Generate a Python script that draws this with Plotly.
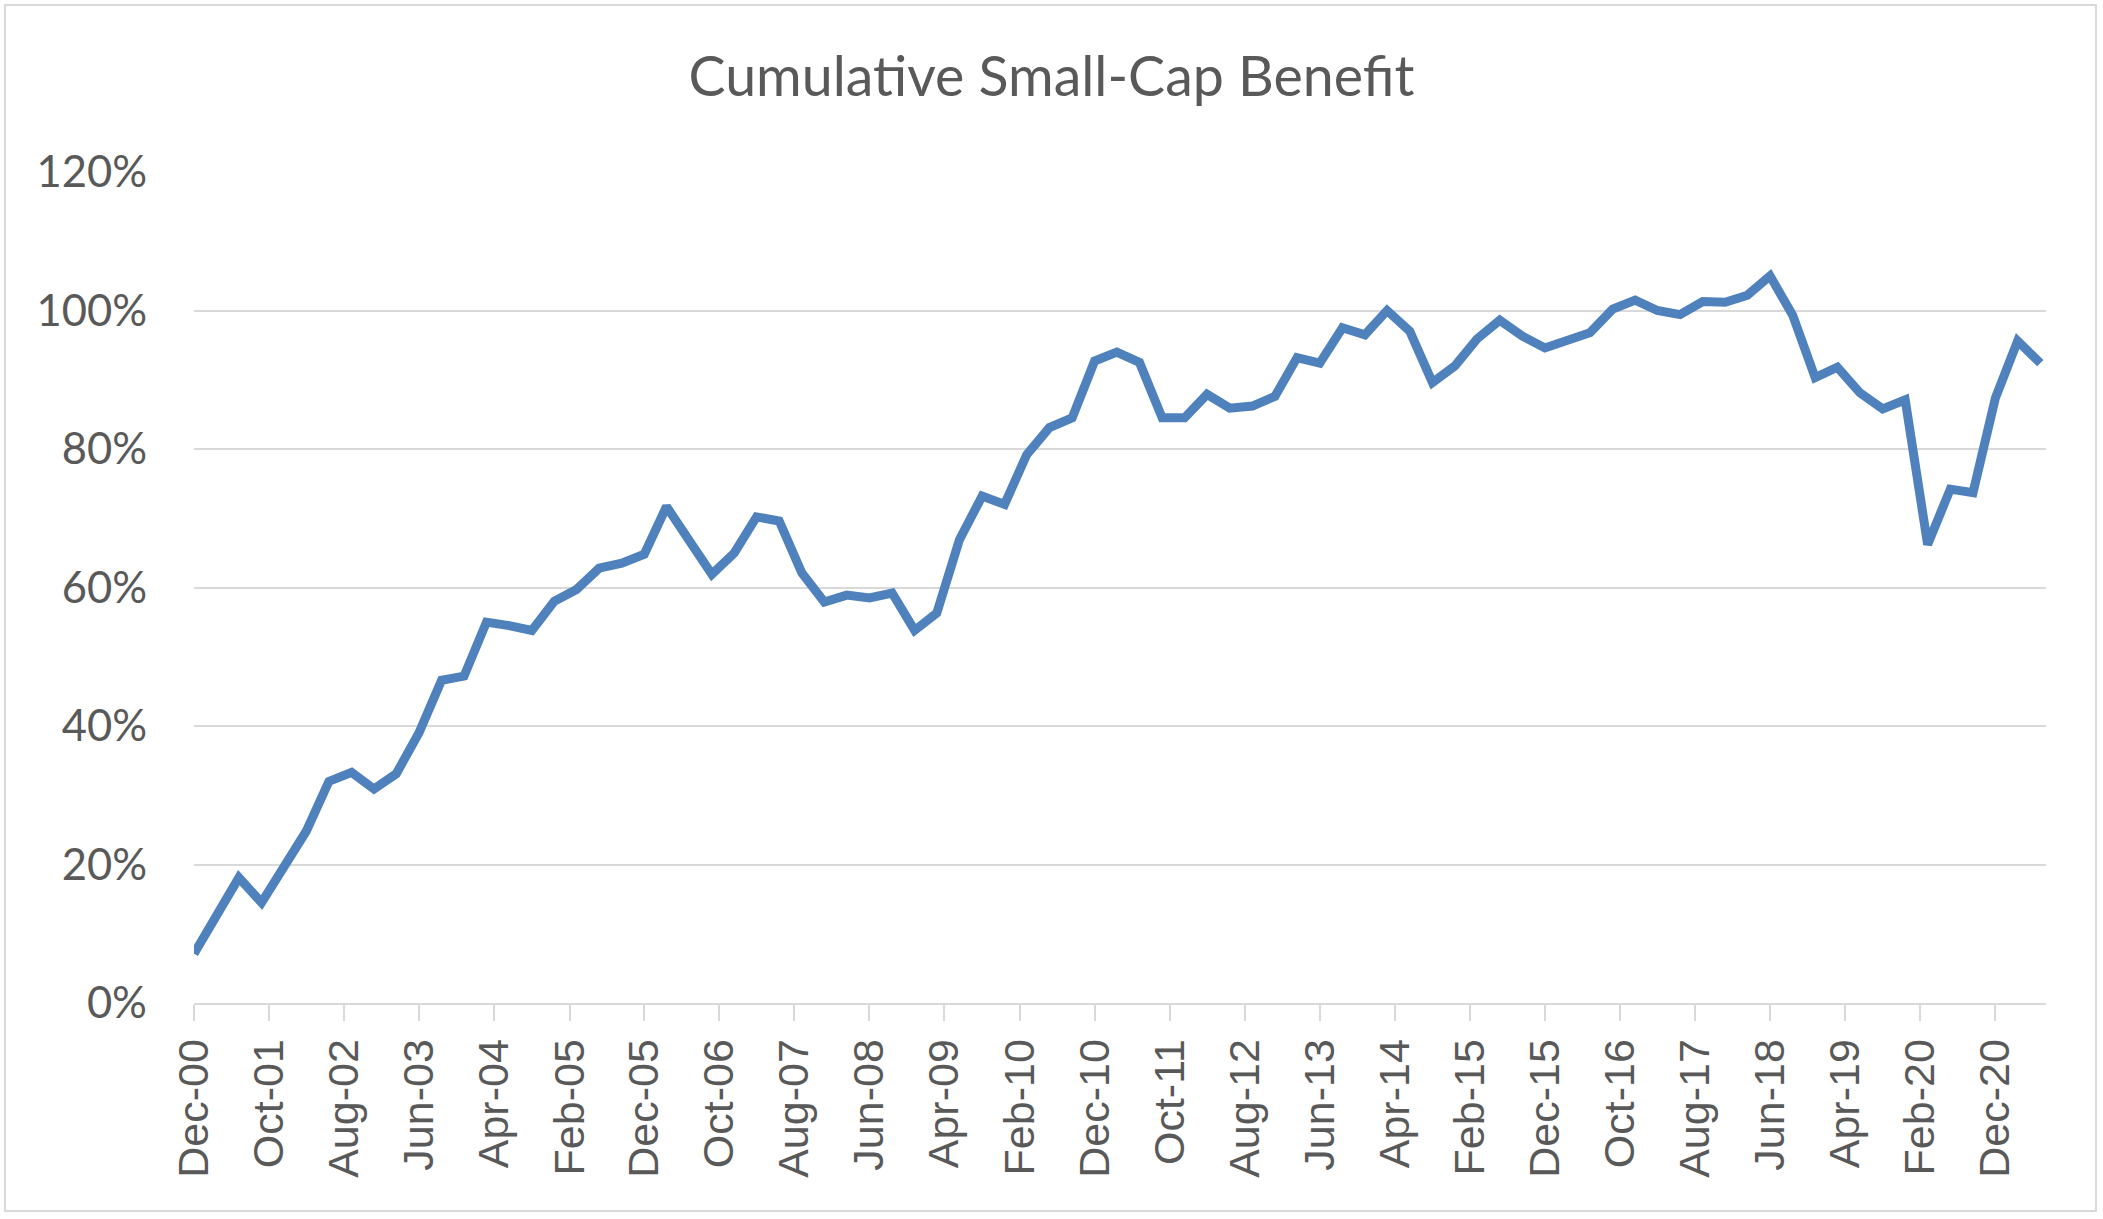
import plotly.graph_objects as go
import pandas as pd

title = "Cumulative Small-Cap Benefit"

# Quarterly observation dates, Dec-2000 through Jun-2021
dates = pd.date_range(start="2000-12-01", periods=83, freq="3MS")

# Cumulative small-cap benefit (%)
benefit = [
    7.1, 12.3, 18.1, 14.5, 19.7, 24.8, 32.0, 33.3, 30.9, 33.1,
    39.0, 46.6, 47.2, 55.0, 54.5, 53.8, 58.0, 59.7, 62.8, 63.5,
    64.8, 71.7, 66.8, 61.9, 65.0, 70.2, 69.6, 62.1, 57.9, 58.9,
    58.5, 59.2, 53.8, 56.3, 66.9, 73.2, 72.0, 79.2, 83.1, 84.5,
    92.7, 94.0, 92.5, 84.5, 84.5, 87.9, 85.9, 86.2, 87.6, 93.2,
    92.4, 97.5, 96.5, 100.0, 97.0, 89.6, 92.0, 95.9, 98.6, 96.3,
    94.6, 95.8, 96.8, 100.2, 101.5, 100.0, 99.4, 101.3, 101.2, 102.2,
    105.0, 99.3, 90.3, 91.8, 88.1, 85.8, 87.1, 66.2, 74.2, 73.7,
    87.4, 95.6, 92.4,
]

y_max = 120
y_step = 20

W, H = 2103, 1219
ML, MR, MT, MB = 194, 57, 172, 216
pw, ph = W - ML - MR, H - MT - MB

fig = go.Figure()
fig.add_trace(go.Scatter(
    x=dates, y=benefit, mode="lines",
    line=dict(color="#4F81BD", width=9),
    hoverinfo="x+y", showlegend=False,
))

grey = "#595959"
fig.update_layout(
    width=W, height=H,
    margin=dict(l=ML, r=MR, t=MT, b=MB, pad=0),
    paper_bgcolor="white", plot_bgcolor="white",
    title=dict(text=title, x=0.5, xref="container", xanchor="center",
               y=1 - 77 / H, yref="container", yanchor="middle",
               font=dict(family="Lato", size=55.5, color=grey)),
    xaxis=dict(
        type="date",
        range=["2000-12-01", "2021-06-24"],
        tick0="2000-12-01", dtick="M10", tickformat="%b-%y",
        tickangle=-90,
        ticks="outside", ticklen=16, tickwidth=2, tickcolor="#d9d9d9",
        showline=True, linecolor="#d9d9d9", linewidth=2,
        showgrid=False, zeroline=False,
        tickfont=dict(family="Liberation Sans", size=43, color=grey),
        ticklabelstandoff=1,
    ),
    yaxis=dict(
        range=[0, y_max], tick0=0, dtick=y_step, ticksuffix="%",
        showgrid=True, gridcolor="#d9d9d9", gridwidth=2,
        showline=False, zeroline=False, ticks="",
        tickfont=dict(family="Lato", size=43.5, color=grey),
        ticklabelstandoff=46,
    ),
    shapes=[dict(
        type="rect", xref="paper", yref="paper", layer="below",
        x0=(5 - ML) / pw, x1=(2096 - ML) / pw,
        y0=(H - MB - 1211) / ph, y1=(H - MB - 5) / ph,
        line=dict(color="#d9d9d9", width=2), fillcolor="rgba(0,0,0,0)",
    )],
)

fig.write_html("out.html", config={"displayModeBar": False},
               post_script="document.body.style.margin='0';")
